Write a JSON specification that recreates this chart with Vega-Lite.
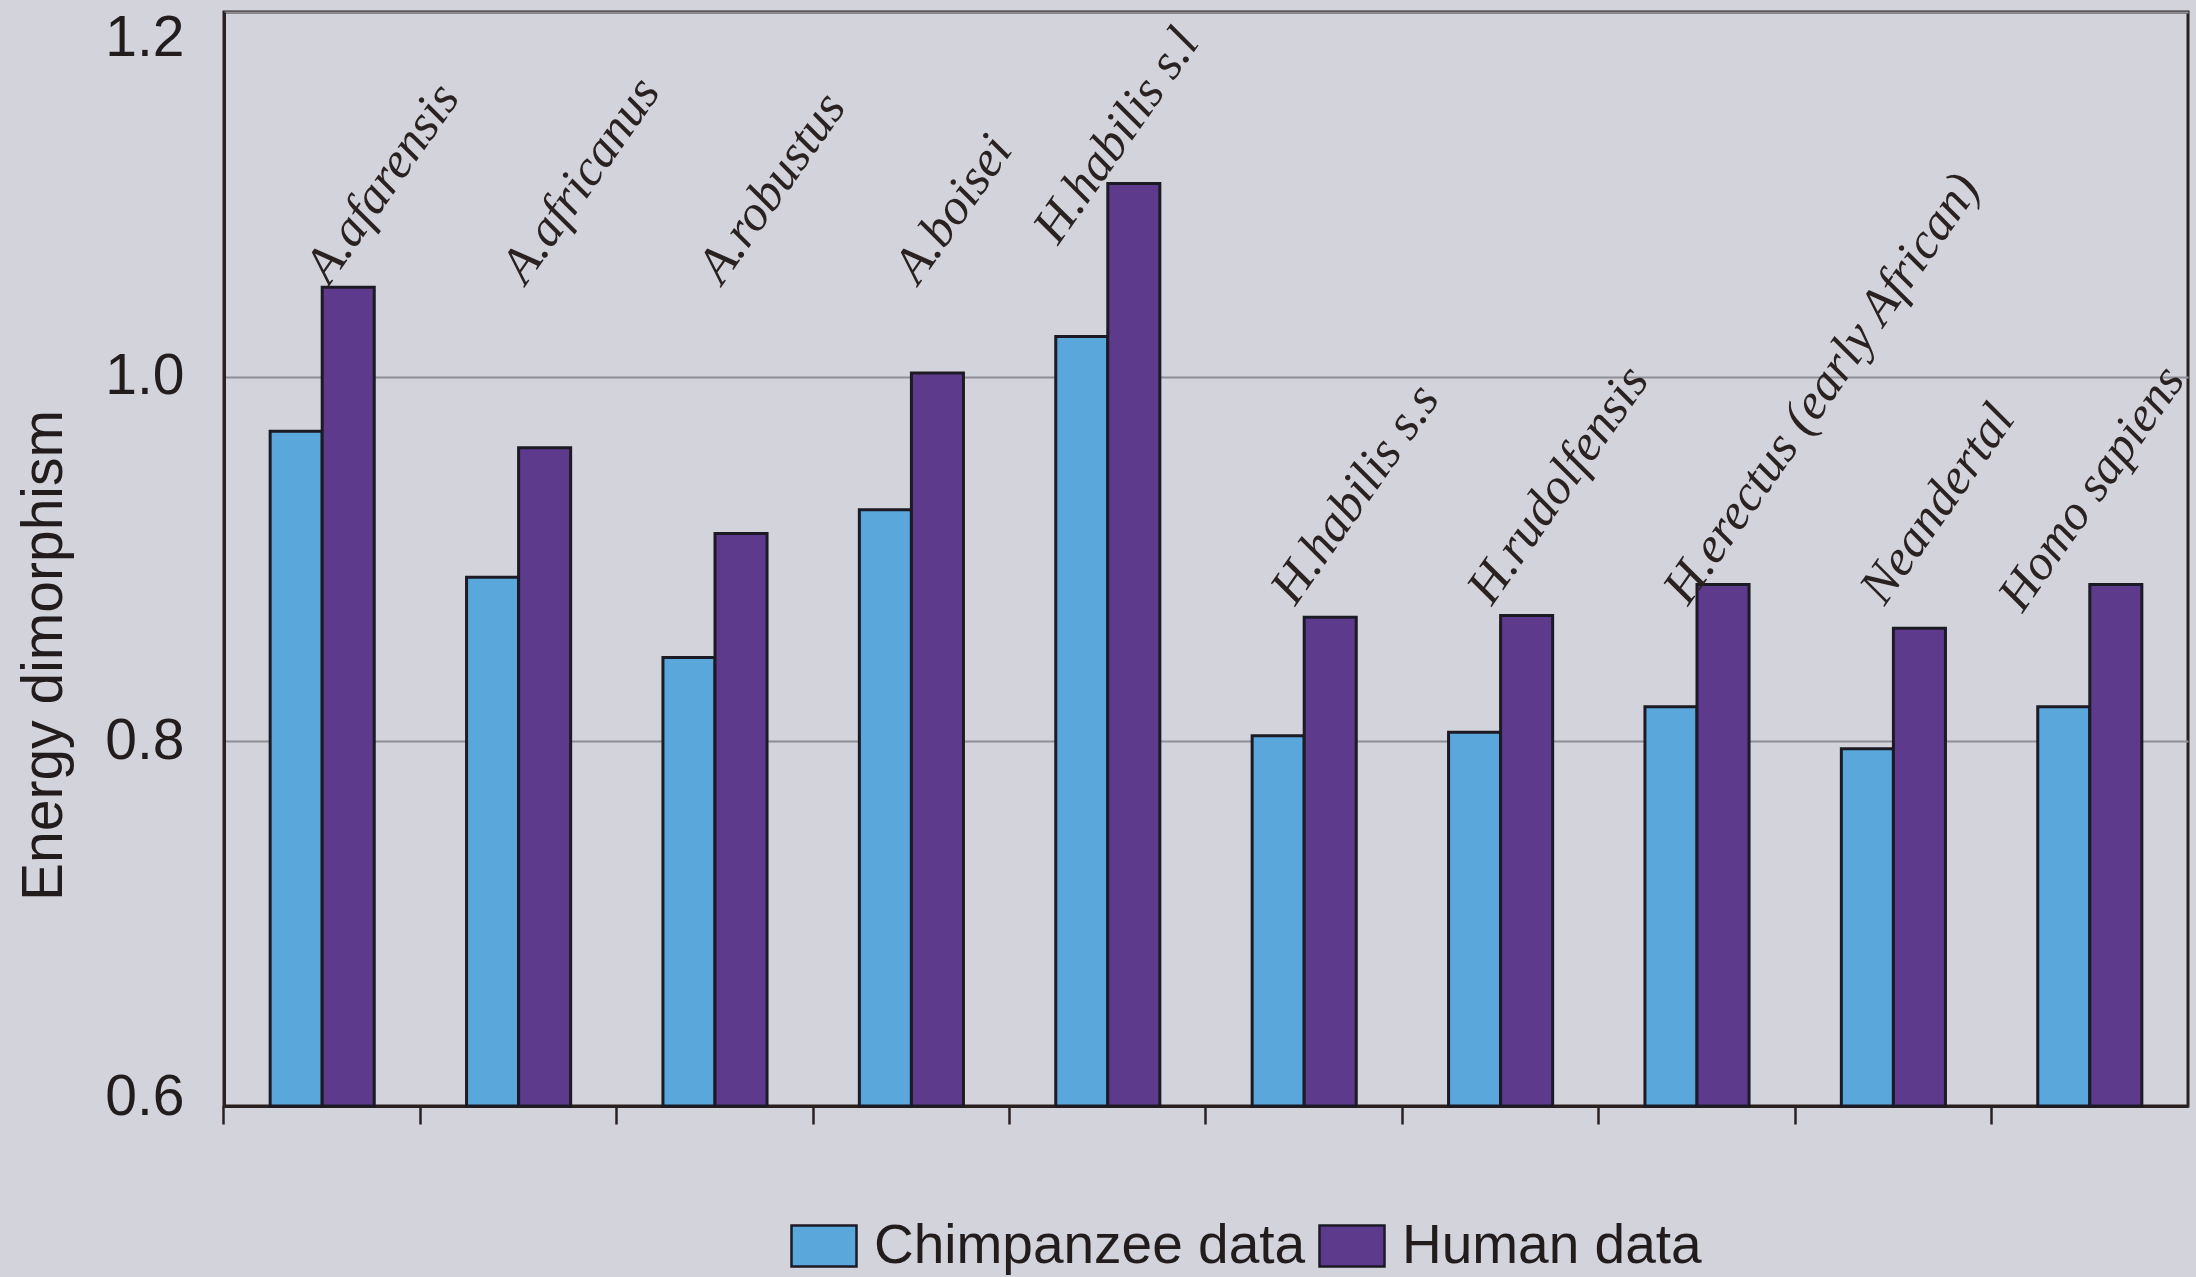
{
  "$schema": "https://vega.github.io/schema/vega-lite/v6.json",
  "width": 1964,
  "height": 1094,
  "autosize": {"type": "none"},
  "padding": {"left": 224, "top": 12, "right": 8, "bottom": 171},
  "background": "#d2d3db",
  "config": {
    "view": {"stroke": "#2b2020", "strokeWidth": 3},
    "font": "Liberation Sans"
  },
  "data": {
    "values": [
      {"species": "A.afarensis", "source": "Chimpanzee data", "value": 0.970},
      {"species": "A.afarensis", "source": "Human data", "value": 1.049},
      {"species": "A.africanus", "source": "Chimpanzee data", "value": 0.890},
      {"species": "A.africanus", "source": "Human data", "value": 0.961},
      {"species": "A.robustus", "source": "Chimpanzee data", "value": 0.846},
      {"species": "A.robustus", "source": "Human data", "value": 0.914},
      {"species": "A.boisei", "source": "Chimpanzee data", "value": 0.927},
      {"species": "A.boisei", "source": "Human data", "value": 1.002},
      {"species": "H.habilis s.l", "source": "Chimpanzee data", "value": 1.022},
      {"species": "H.habilis s.l", "source": "Human data", "value": 1.106},
      {"species": "H.habilis s.s", "source": "Chimpanzee data", "value": 0.803},
      {"species": "H.habilis s.s", "source": "Human data", "value": 0.868},
      {"species": "H.rudolfensis", "source": "Chimpanzee data", "value": 0.805},
      {"species": "H.rudolfensis", "source": "Human data", "value": 0.869},
      {"species": "H.erectus (early African)", "source": "Chimpanzee data", "value": 0.819},
      {"species": "H.erectus (early African)", "source": "Human data", "value": 0.886},
      {"species": "Neandertal", "source": "Chimpanzee data", "value": 0.796},
      {"species": "Neandertal", "source": "Human data", "value": 0.862},
      {"species": "Homo sapiens", "source": "Chimpanzee data", "value": 0.819},
      {"species": "Homo sapiens", "source": "Human data", "value": 0.886}
    ]
  },
  "encoding": {
    "x": {
      "field": "species",
      "type": "nominal",
      "sort": ["A.afarensis", "A.africanus", "A.robustus", "A.boisei", "H.habilis s.l", "H.habilis s.s", "H.rudolfensis", "H.erectus (early African)", "Neandertal", "Homo sapiens"],
      "scale": {"paddingInner": 0.47, "paddingOuter": 0.235},
      "axis": {
        "title": null,
        "labels": false,
        "bandPosition": -0.4434,
        "ticks": true,
        "tickSize": 18,
        "tickWidth": 2.5,
        "tickColor": "#2b2020",
        "domainColor": "#2b2020",
        "domainWidth": 3,
        "grid": false
      }
    }
  },
  "layer": [
    {
      "mark": {"type": "bar", "stroke": "#1c1a24", "strokeWidth": 3},
      "encoding": {
        "xOffset": {"field": "source", "type": "nominal", "sort": ["Chimpanzee data", "Human data"], "scale": {"paddingInner": 0, "paddingOuter": 0}},
        "y": {
          "field": "value",
          "type": "quantitative",
          "scale": {"domain": [0.6, 1.2], "zero": false, "nice": false},
          "axis": {
            "values": [0.6, 0.8, 1.0, 1.2],
            "format": ".1f",
            "title": "Energy dimorphism",
            "titleFont": "Liberation Sans",
            "titleFontSize": 57,
            "titleFontWeight": "normal",
            "titleColor": "#221c1c",
            "titleX": -180,
            "titleY": 643,
            "titleAngle": -90,
            "titleBaseline": "middle",
            "titleAlign": "center",
            "labelFont": "Liberation Sans",
            "labelFontSize": 57,
            "labelColor": "#221c1c",
            "labelPadding": 40,
            "labelFlush": false,
            "labelOffset": {"condition": [{"test": "datum.value > 1.1", "value": 26}, {"test": "datum.value < 0.7", "value": -9}], "value": 0},
            "ticks": false,
            "tickSize": 0,
            "domainColor": "#2b2020",
            "domainWidth": 3,
            "grid": true,
            "gridColor": "#8e8e95",
            "gridWidth": 2
          }
        },
        "y2": {"datum": 0.6},
        "color": {
          "field": "source",
          "type": "nominal",
          "scale": {"domain": ["Chimpanzee data", "Human data"], "range": ["#5aa7dc", "#5d3a8c"]},
          "legend": {
            "orient": "none",
            "legendX": 566,
            "legendY": 1200,
            "direction": "horizontal",
            "title": null,
            "symbolType": "M-1,-0.63H1V0.63H-1Z",
            "symbolSize": 4225,
            "symbolStrokeColor": "#1c1a24",
            "symbolStrokeWidth": 2.5,
            "symbolOpacity": 1,
            "labelFont": "Liberation Sans",
            "labelFontSize": 55,
            "labelColor": "#221c1c",
            "labelOffset": 16,
            "labelLimit": 800,
            "columnPadding": 8,
            "padding": 0
          }
        }
      }
    },
    {
      "transform": [{"filter": "datum.source === 'Human data' && indexof(['A.afarensis','A.africanus','A.robustus','A.boisei'], datum.species) >= 0"}],
      "mark": {"type": "text", "angle": -55, "align": "left", "baseline": "alphabetic", "font": "Liberation Serif", "fontStyle": "italic", "fontSize": 51, "color": "#2a2220", "dx": 4, "dy": 6},
      "encoding": {"y": {"datum": 1.050, "type": "quantitative"}, "text": {"field": "species"}}
    },
    {
      "transform": [{"filter": "datum.source === 'Human data' && datum.species === 'H.habilis s.l'"}],
      "mark": {"type": "text", "angle": -55, "align": "left", "baseline": "alphabetic", "font": "Liberation Serif", "fontStyle": "italic", "fontSize": 51, "color": "#2a2220", "dx": -41, "dy": -32},
      "encoding": {"y": {"datum": 1.080, "type": "quantitative"}, "text": {"field": "species"}}
    },
    {
      "transform": [{"filter": "datum.source === 'Human data' && indexof(['H.habilis s.s','H.rudolfensis','H.erectus (early African)','Neandertal'], datum.species) >= 0"}],
      "mark": {"type": "text", "angle": -55, "align": "left", "baseline": "alphabetic", "font": "Liberation Serif", "fontStyle": "italic", "fontSize": 51, "color": "#2a2220", "dx": -8.5, "dy": -5},
      "encoding": {"y": {"datum": 0.876, "type": "quantitative"}, "text": {"field": "species"}}
    },
    {
      "transform": [{"filter": "datum.source === 'Human data' && datum.species === 'Homo sapiens'"}],
      "mark": {"type": "text", "angle": -55, "align": "left", "baseline": "alphabetic", "font": "Liberation Serif", "fontStyle": "italic", "fontSize": 50, "color": "#2a2220", "dx": -43, "dy": -52},
      "encoding": {"y": {"datum": 0.873, "type": "quantitative"}, "text": {"field": "species"}}
    }
  ]
}
